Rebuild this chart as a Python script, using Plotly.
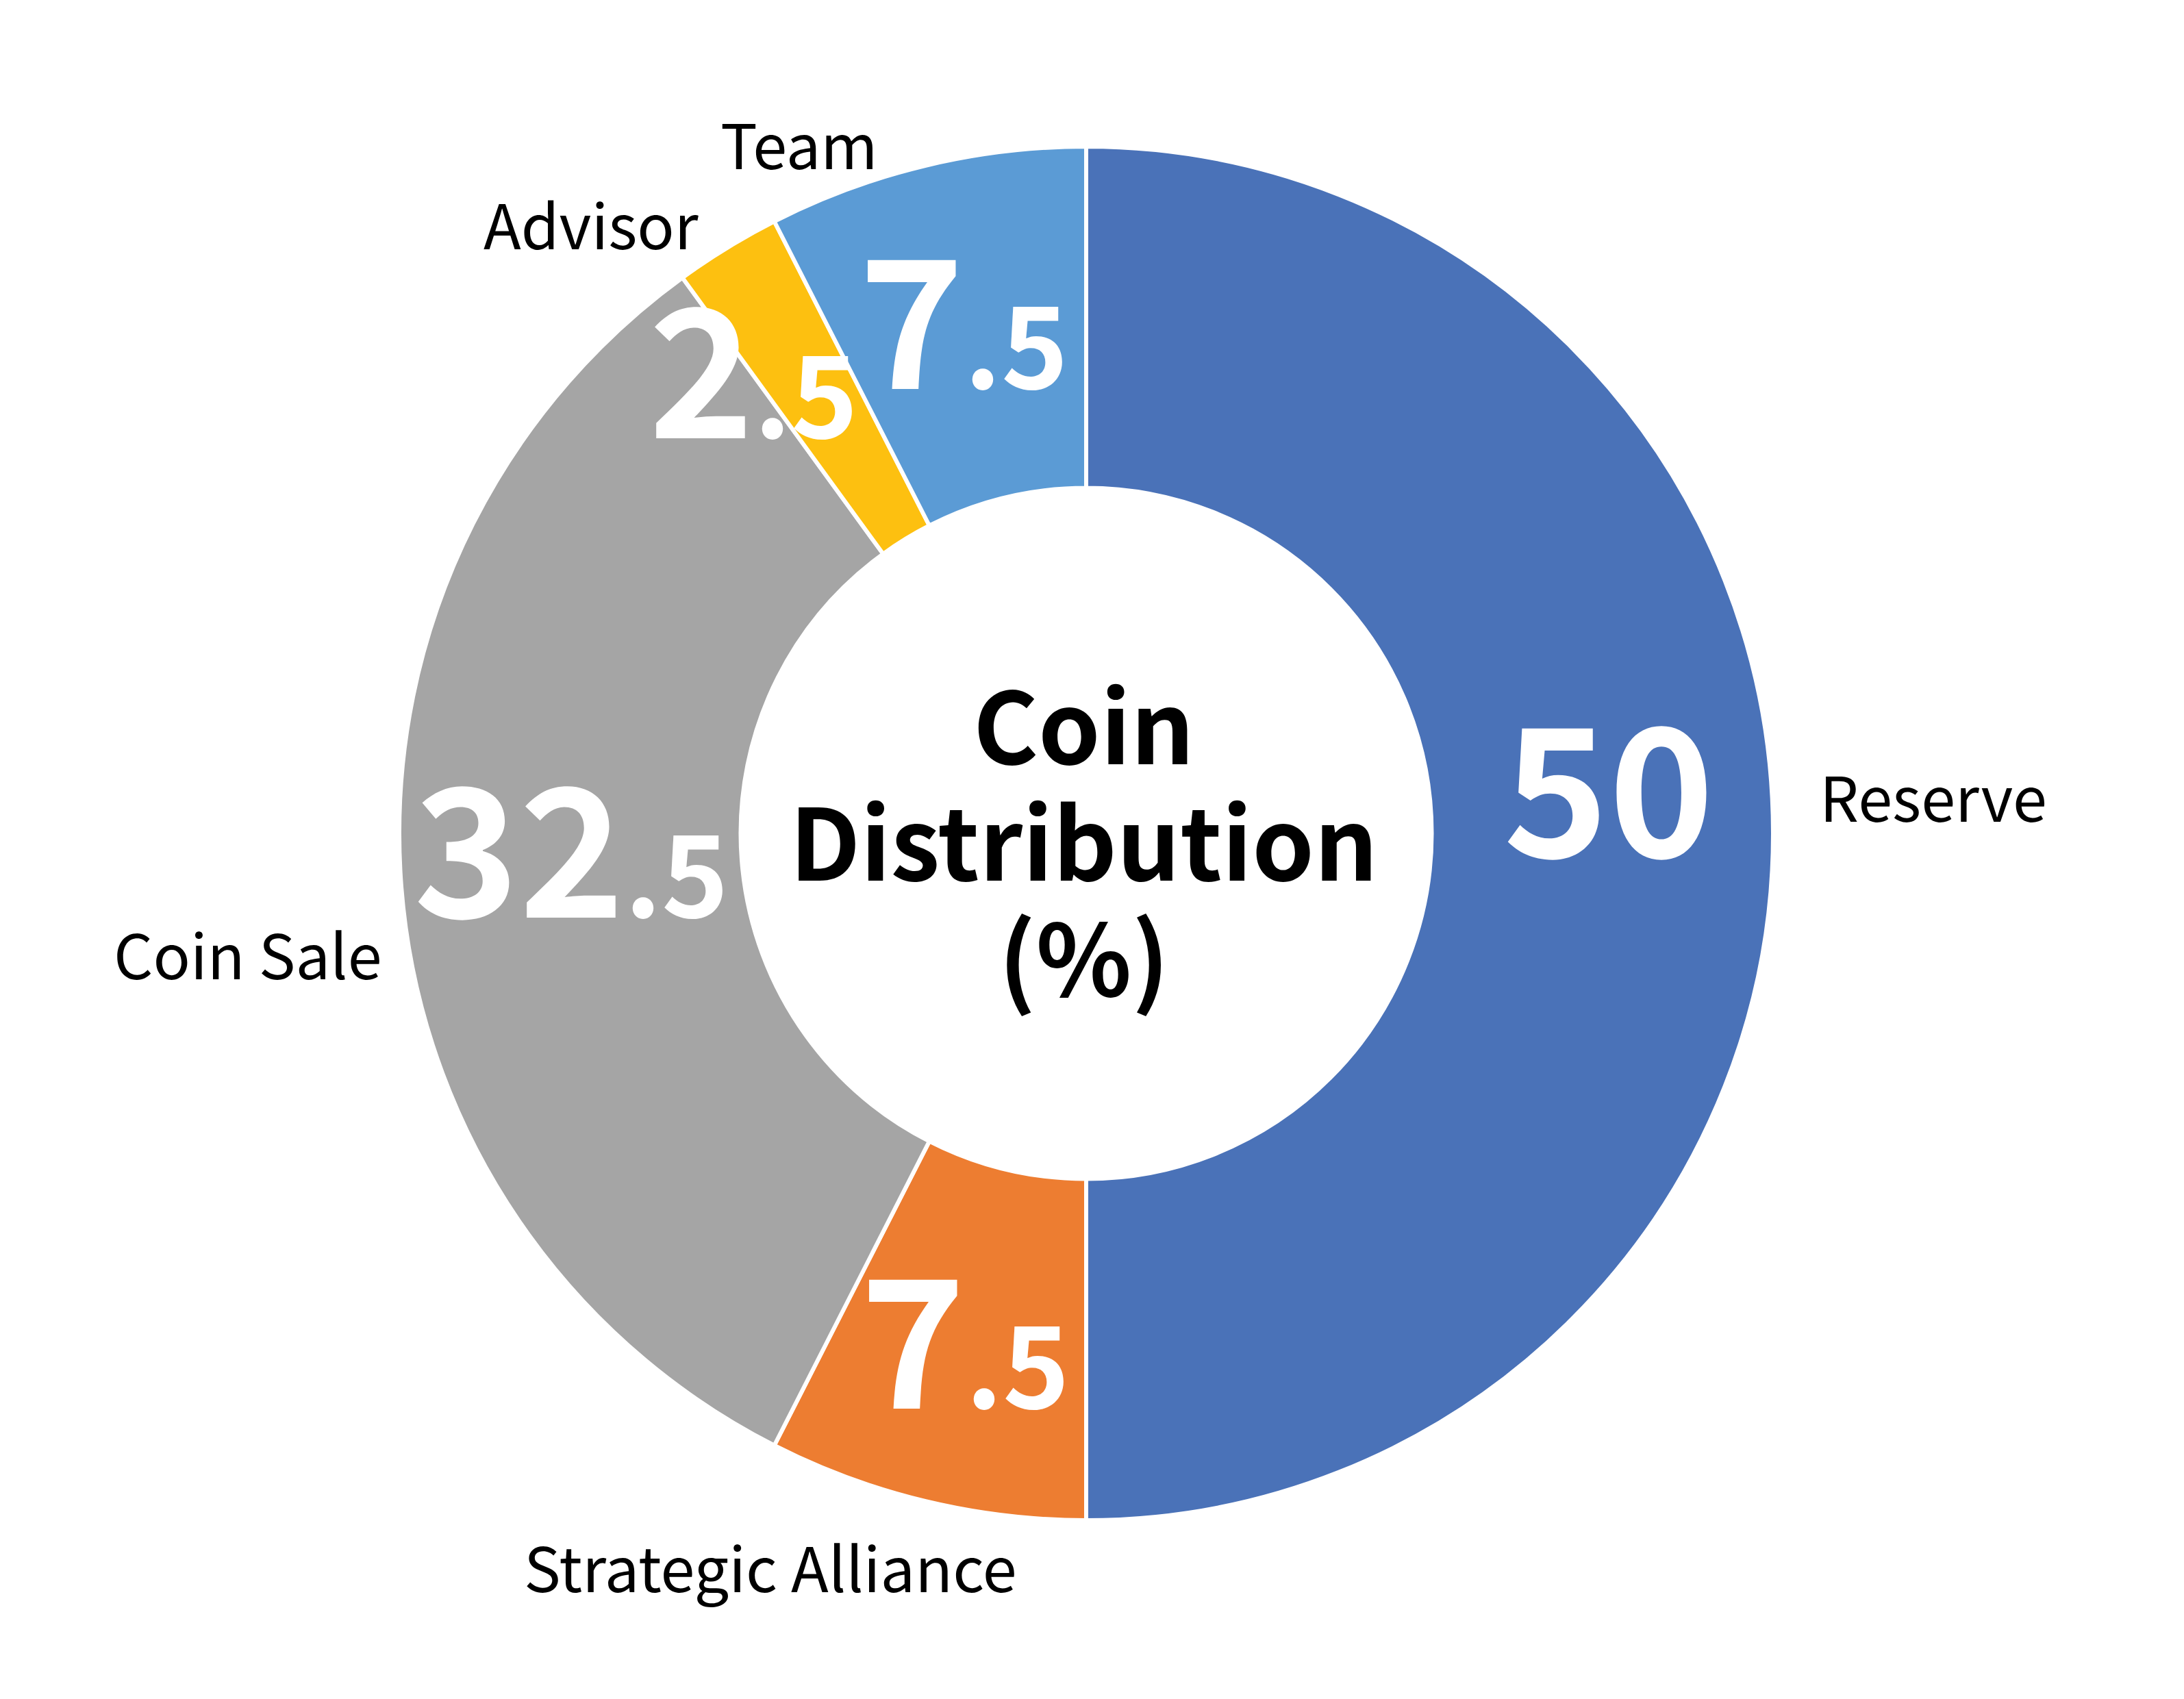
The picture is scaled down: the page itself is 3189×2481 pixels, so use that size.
import plotly.graph_objects as go

# ---- data ----
categories = ["Reserve", "Strategic Alliance", "Coin Sale", "Advisor", "Team"]
values = [50, 7.5, 32.5, 2.5, 7.5]
value_int = ["50", "7", "32", "2", "7"]
value_frac = ["", ".5", ".5", ".5", ".5"]
colors = ["#4A72B8", "#ED7D31", "#A5A5A5", "#FDC010", "#5B9BD5"]
title_lines = ["Coin", "Distribution", "(%)"]

W, H = 3189, 2481
FONT = "Noto Sans CJK JP, Source Sans Pro, Noto Sans, sans-serif"

# pie geometry (pixels)
cx, cy, R = 1586, 1217, 1003

def px(x):
    return x / W

def py(y):
    return 1 - y / H

fig = go.Figure()
fig.add_trace(go.Pie(
    labels=categories,
    values=values,
    sort=False,
    direction="clockwise",
    rotation=0,
    hole=0.503,
    marker=dict(colors=colors, line=dict(color="white", width=6)),
    textinfo="none",
    hoverinfo="label+value",
    showlegend=False,
    domain=dict(x=[px(cx - R), px(cx + R)], y=[py(cy + R), py(cy - R)]),
))

# value label positions (pixel centres) and category label positions
value_pos = [(2349, 1138), (1409, 1943), (834, 1226), (1100, 526), (1407, 454)]
name_pos = [(2823, 1161), (1125, 2286), (362, 1391), (864, 325), (1167, 208)]

annotations = []
for i in range(len(categories)):
    txt = value_int[i]
    if value_frac[i]:
        txt += "<span style='font-size:166px'>" + value_frac[i] + "</span>"
    x, y = value_pos[i]
    annotations.append(dict(
        x=px(x), y=py(y), xref="paper", yref="paper",
        text="<b>" + txt + "</b>", showarrow=False,
        xanchor="center", yanchor="middle",
        font=dict(family=FONT, size=261, color="white"),
    ))
    nx, ny = name_pos[i]
    annotations.append(dict(
        x=px(nx), y=py(ny), xref="paper", yref="paper",
        text=categories[i], showarrow=False,
        xanchor="center", yanchor="middle",
        font=dict(family=FONT, size=90, color="black"),
    ))

title_y = [1053, 1223, 1392]
for t, ty in zip(title_lines, title_y):
    annotations.append(dict(
        x=px(1582), y=py(ty), xref="paper", yref="paper",
        text="<b>" + t + "</b>", showarrow=False,
        xanchor="center", yanchor="middle",
        font=dict(family=FONT, size=145, color="black"),
    ))

fig.update_layout(
    width=W, height=H,
    margin=dict(l=0, r=0, t=0, b=0),
    paper_bgcolor="white", plot_bgcolor="white",
    annotations=annotations,
)

fig.write_html("out.html")
